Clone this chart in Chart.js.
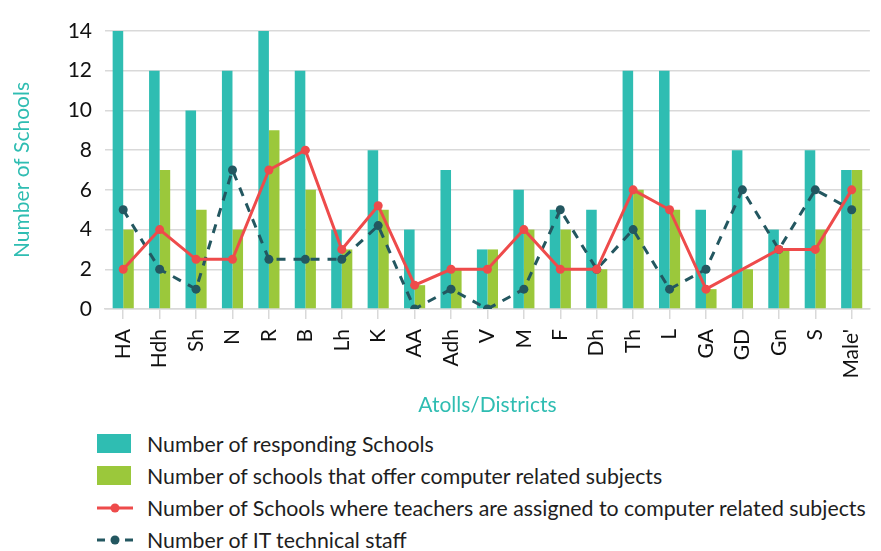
<!DOCTYPE html>
<html>
<head>
<meta charset="utf-8">
<script src="https://cdn.jsdelivr.net/npm/chart.js@4/dist/chart.umd.min.js"></script>
<style>
  html, body { margin: 0; padding: 0; background: #fff; overflow: hidden; }
  body { width: 881px; height: 551px; position: relative; font-family: Lato, sans-serif; }
  #wrap { position: absolute; left: 0; top: 0; width: 887px; height: 420px; }
  #legend { position: absolute; left: 97px; top: 428px; }
  .row { display: flex; align-items: center; height: 32px; font-size: 21.3px; color: #1e1e1e; white-space: nowrap; }
  .row svg { width: 36px; height: 20px; margin-right: 14px; flex: none; }
</style>
</head>
<body>
<div id="wrap"><canvas id="c"></canvas></div>
<div id="legend"></div>
<script>
const labels = ['HA', 'Hdh', 'Sh', 'N', 'R', 'B', 'Lh', 'K', 'AA', 'Adh', 'V', 'M', 'F', 'Dh', 'Th', 'L', 'GA', 'GD', 'Gn', 'S', "Male'"];
const responding = [14, 12, 10, 12, 14, 12, 4, 8, 4, 7, 3, 6, 5, 5, 12, 12, 5, 8, 4, 8, 7];
const offering = [4, 7, 5, 4, 9, 6, 3, 5, 1.2, 2, 3, 4, 4, 2, 6, 5, 1, 2, 3, 4, 7];
const teachers = [2, 4, 2.5, 2.5, 7, 8, 3, 5.2, 1.2, 2, 2, 4, 2, 2, 6, 5, 1, null, 3, 3, 6];
const itStaff = [5, 2, 1, 7, 2.5, 2.5, 2.5, 4.2, 0, 1, 0, 1, 5, 2, 4, 1, 2, 6, 3, 6, 5];
const yTicks = [0, 2, 4, 6, 8, 10, 12, 14];

const TEAL = '#2fbdb2';
const GREEN = '#9bc83b';
const RED = '#ee4b4b';
const DARK = '#235760';
const GRID = '#d9d9d9';

const names = [
  'Number of responding Schools',
  'Number of schools that offer computer related subjects',
  'Number of Schools where teachers are assigned to computer related subjects',
  'Number of IT technical staff'
];

const chart = new Chart(document.getElementById('c'), {
  type: 'bar',
  data: {
    labels,
    datasets: [
      {
        type: 'line', label: names[2], data: teachers, order: 1,
        borderColor: RED, backgroundColor: RED, borderWidth: 3,
        pointRadius: 4.5, pointBorderWidth: 0, pointBackgroundColor: RED,
        spanGaps: true, tension: 0
      },
      {
        type: 'line', label: names[3], data: itStaff, order: 2,
        borderColor: DARK, backgroundColor: DARK, borderWidth: 3, borderDash: [9, 8],
        pointRadius: 4.5, pointBorderWidth: 0, pointBackgroundColor: DARK,
        tension: 0
      },
      { label: names[0], data: responding, backgroundColor: TEAL, order: 3, categoryPercentage: 0.58, barPercentage: 1 },
      { label: names[1], data: offering, backgroundColor: GREEN, order: 4, categoryPercentage: 0.58, barPercentage: 1 }
    ]
  },
  options: {
    responsive: true,
    maintainAspectRatio: false,
    animation: false,
    layout: { padding: { top: 31, left: 4, right: 0, bottom: 0 } },
    plugins: { legend: { display: false }, tooltip: { enabled: false } },
    scales: {
      x: {
        afterFit(scale) { scale.height = 111; },
        grid: { offset: false, drawOnChartArea: false, tickLength: 10, color: GRID, lineWidth: 1.5 },
        border: { color: GRID, width: 1.5 },
        ticks: { color: '#111', font: { family: 'Lato', size: 21 }, minRotation: 90, maxRotation: 90, padding: 10, autoSkip: false },
        title: { display: true, text: 'Atolls/Districts', color: TEAL, font: { family: 'Lato', size: 21 }, padding: { top: 0, bottom: 2 } }
      },
      y: {
        min: 0, max: 14,
        afterFit(scale) { scale.width = 101; },
        afterBuildTicks(scale) { scale.ticks = yTicks.map(v => ({ value: v })); },
        grid: { color: GRID, lineWidth: 1.5, drawTicks: false },
        border: { display: false },
        ticks: { color: '#111', font: { family: 'Lato', size: 21 }, padding: 13 },
        title: { display: true, text: 'Number of Schools', color: TEAL, font: { family: 'Lato', size: 21 }, padding: { top: 6, bottom: 0 } }
      }
    }
  }
});

// HTML legend, one entry per row like the original
const icons = [
  `<svg viewBox="0 0 36 20"><rect x="0" y="0" width="34" height="19" fill="${TEAL}"/></svg>`,
  `<svg viewBox="0 0 36 20"><rect x="0" y="0" width="34" height="19" fill="${GREEN}"/></svg>`,
  `<svg viewBox="0 0 36 20"><line x1="0" y1="10" x2="36" y2="10" stroke="${RED}" stroke-width="3"/><circle cx="18" cy="10" r="4.5" fill="${RED}"/></svg>`,
  `<svg viewBox="0 0 36 20"><line x1="0" y1="10" x2="8" y2="10" stroke="${DARK}" stroke-width="3"/><line x1="28" y1="10" x2="36" y2="10" stroke="${DARK}" stroke-width="3"/><circle cx="18" cy="10" r="4.5" fill="${DARK}"/></svg>`
];
document.getElementById('legend').innerHTML = names.map((n, i) =>
  `<div class="row">${icons[i]}<span>${n}</span></div>`).join('');
</script>
</body>
</html>
